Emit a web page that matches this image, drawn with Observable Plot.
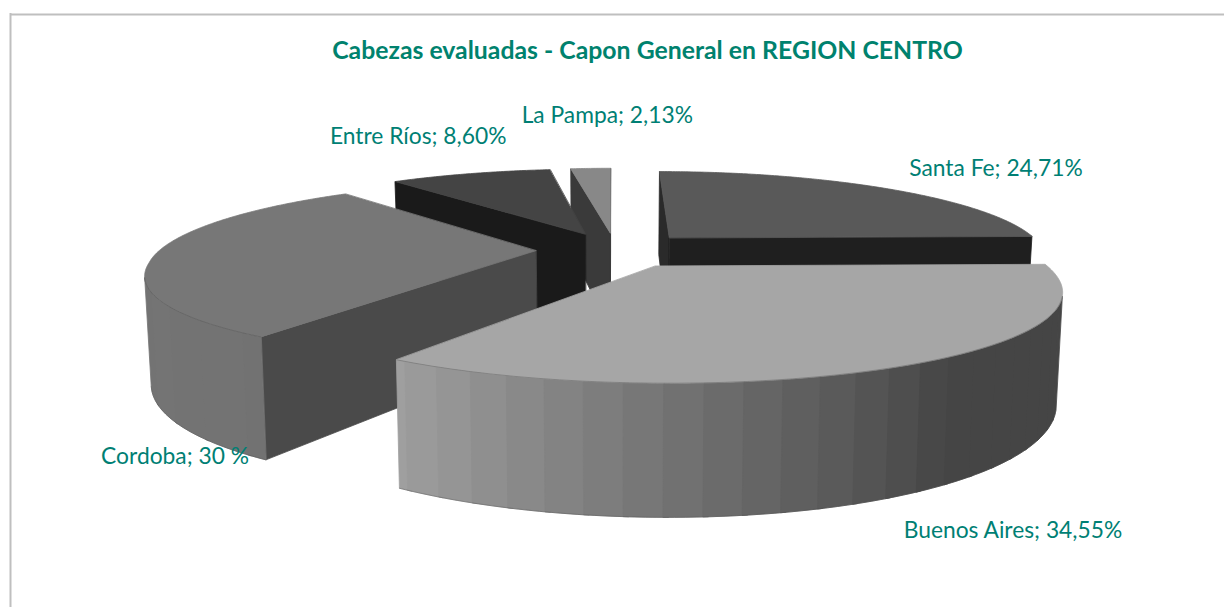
<!DOCTYPE html>
<html>
<head>
<meta charset="utf-8">
<script src="https://cdn.jsdelivr.net/npm/d3@7"></script>
<script src="https://cdn.jsdelivr.net/npm/@observablehq/plot@0.6"></script>
<style>
html,body{margin:0;padding:0;background:#fff}
svg{display:block}
</style>
</head>
<body>
<div id="chart"></div>
<script>
// ---- data ----
const provinces = ["Santa Fe", "Buenos Aires", "Cordoba", "Entre Ríos", "La Pampa"];
const shares = [24.71, 34.55, 30, 8.60, 2.13];
const shareLabels = ["24,71%", "34,55%", "30 %", "8,60%", "2,13%"];
const title = "Cabezas evaluadas - Capon General en REGION CENTRO";

// ---- styles ----
const topGray = [0x59, 0xa6, 0x77, 0x44, 0x88];
const startFace = ["#2a2a2a", "#444444", "#4a4a4a", "#1a1a1a", "#3a3a3a"];
const endFace = ["#1f1f1f", "#444444", "#4a4a4a", "#1a1a1a", "#3a3a3a"];
const bandStep = [4.5, 4.5, 9, 4.5, 4.5];
const labelNudge = [[25, -19.5], [-3, 165], [-54, 202], [-140.5, -37], [-69, -53]];
const teal = "#007f74", tealTitle = "#00826e";

// ---- 3D pie model (model units, perspective camera) ----
const W = 1224, H = 607;
const R = 388, EXPLODE = 82, CX = 3, CY = -60;
const D = 1696, VX = 612, HORIZON = -173, TOP_K = 435, BOT_K = 540, BOT_NARROW = 0.986;
const FLAT_FRONT = 0.915, FLAT_BACK = 0.89, FLAT_SHIFT = 2.6;
const WIDEN_FRONT = 1.1e-4, WIDEN_BACK = 0.4e-4;
const rad = d => d * Math.PI / 180;
const dir = a => [Math.sin(rad(a)), -Math.cos(rad(a))];
function proj(X, Y, bottom) {
  const Yp = (Y < 0 ? FLAT_BACK : FLAT_FRONT) * Y + FLAT_SHIFT;
  const s = D / (D - Yp);
  const widen = 1 + (Yp > 0 ? WIDEN_FRONT : WIDEN_BACK) * Yp;
  return bottom
    ? [VX + X * s * widen * BOT_NARROW, HORIZON + BOT_K * s]
    : [VX + X * s * widen, HORIZON + TOP_K * s];
}
function shade(a) { // light on the outer wall, by heading
  const stops = [[0, .415], [144, .415], [213, .96], [245, .98], [275, .78], [360, .78]];
  for (let i = 1; i < stops.length; i++) {
    if (a <= stops[i][0]) {
      const t = (a - stops[i - 1][0]) / (stops[i][0] - stops[i - 1][0]);
      return stops[i - 1][1] + t * (stops[i][1] - stops[i - 1][1]);
    }
  }
  return .78;
}
const gray = v => { const g = Math.round(Math.min(255, v)); return `rgb(${g},${g},${g})`; };
function area(p) {
  let s = 0;
  for (let i = 0; i < p.length; i++) {
    const q = p[(i + 1) % p.length];
    s += p[i][0] * q[1] - q[0] * p[i][1];
  }
  return s;
}

const total = d3.sum(shares);
let acc = 0;
const slices = shares.map((v, i) => {
  const a0 = acc / total * 360; acc += v;
  const a1 = acc / total * 360, mid = (a0 + a1) / 2;
  const d = dir(mid);
  return {i, a0, a1, mid, ax: CX + EXPLODE * d[0], ay: CY + EXPLODE * d[1]};
});

const polys = [];
const edges = [];
let pid = 0;
function addPoly(points, c) {
  pid++;
  for (const [x, y] of points) polys.push({id: pid, x, y, c});
}
for (const sl of [...slices].sort((a, b) => a.ay - b.ay)) {
  const rim = (a, b) => {
    const d = dir(a);
    return proj(sl.ax + R * d[0], sl.ay + R * d[1], b);
  };
  const apex = b => proj(sl.ax, sl.ay, b);
  // radial walls
  const sf = [apex(false), rim(sl.a0, false), rim(sl.a0, true), apex(true)];
  if (area(sf) < 0) addPoly(sf, startFace[sl.i]);
  const ef = [apex(false), rim(sl.a1, false), rim(sl.a1, true), apex(true)];
  if (area(ef) > 0) addPoly(ef, endFace[sl.i]);
  // outer wall in bands, each one lapping a little over the next to close the seams
  const BAND = bandStep[sl.i];
  let a = sl.a0;
  const walls = [];
  while (a < sl.a1 - 1e-6) {
    const b = Math.min(sl.a1, (Math.floor(a / BAND + 1e-6) + 1) * BAND);
    const end = Math.min(sl.a1, b + 0.6);
    const as = d3.range(0, 5).map(k => a + (end - a) * k / 4);
    const quad = [...as.map(t => rim(t, false)), ...as.slice().reverse().map(t => rim(t, true))];
    if (area(quad) < 0) walls.push({quad, c: gray(topGray[sl.i] * shade((a + b) / 2)), a, end});
    a = b;
  }
  walls.reverse().forEach(w => addPoly(w.quad, w.c));
  if (walls.length > 1) {
    const from = walls[walls.length - 1].a, to = walls[0].end;
    const as = d3.range(0, 41).map(k => from + (to - from) * k / 40);
    edges.push(...as.map(t => { const p = rim(t, false); return {id: "t" + sl.i, x: p[0], y: p[1]}; }));
    edges.push(...as.map(t => { const p = rim(t, true); return {id: "b" + sl.i, x: p[0], y: p[1]}; }));
  }
  // top face
  const n = Math.ceil(sl.a1 - sl.a0) * 2;
  const arc = d3.range(0, n + 1).map(k => rim(sl.a0 + (sl.a1 - sl.a0) * k / n, false));
  addPoly([apex(false), ...arc], gray(topGray[sl.i]));
}

const labels = slices.map(sl => {
  const d = dir(sl.mid);
  const [x, y] = proj(CX + (EXPLODE + R) * d[0], CY + (EXPLODE + R) * d[1], false);
  return {
    x: x + labelNudge[sl.i][0],
    y: y + labelNudge[sl.i][1],
    text: `${provinces[sl.i]}; ${shareLabels[sl.i]}`
  };
});

const chart = Plot.plot({
  width: W, height: H, margin: 0,
  style: {background: "#fff"},
  x: {domain: [0, W], range: [0, W], axis: null},
  y: {domain: [0, H], range: [0, H], axis: null},
  color: {type: "identity"},
  marks: [
    Plot.ruleX([10], {y1: 13, y2: H, stroke: "#bfbfbf", strokeWidth: 2}),
    Plot.ruleY([14], {x1: 10, x2: W, stroke: "#bfbfbf", strokeWidth: 2}),
    Plot.line(polys, {x: "x", y: "y", z: "id", fill: "c", stroke: "c", strokeWidth: 0.8, curve: "linear-closed"}),
    Plot.line(edges, {x: "x", y: "y", z: "id", stroke: "#4a4a4a", strokeWidth: 0.6, strokeOpacity: 0.6}),
    Plot.text(labels, {x: "x", y: "y", text: "text", textAnchor: "start", lineAnchor: "middle",
      fill: teal, fontSize: 22.8, fontFamily: "Lato"}),
    Plot.text([title], {x: () => 647, y: () => 51, text: d => d, textAnchor: "middle", lineAnchor: "middle",
      fill: tealTitle, fontSize: 24.8, fontWeight: 700, fontFamily: "Lato"})
  ]
});
document.getElementById("chart").appendChild(chart);
</script>
</body>
</html>
